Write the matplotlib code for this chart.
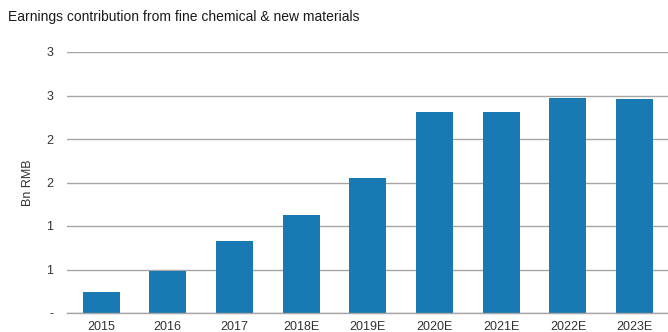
import matplotlib
matplotlib.use("Agg")
import matplotlib.pyplot as plt

plt.rcParams['font.family'] = ['Liberation Sans', 'DejaVu Sans']

years = ["2015", "2016", "2017", "2018E", "2019E", "2020E", "2021E", "2022E", "2023E"]
earnings = [0.245, 0.486, 0.83, 1.126, 1.555, 2.314, 2.314, 2.468, 2.456]
y_ticks = [0, 0.5, 1.0, 1.5, 2.0, 2.5, 3.0]
y_tick_labels = ["-", "1", "1", "2", "2", "3", "3"]

fig = plt.figure(figsize=(6.68, 3.32), dpi=100)
ax = fig.add_axes([67 / 668, 19 / 332, 601 / 668, 261 / 332])

x = range(len(years))
ax.bar(x, earnings, width=0.555, color="#1879b3", zorder=3)

ax.set_xlim(-0.51, len(years) - 0.5)
ax.set_ylim(0, 3.0)
ax.set_yticks(y_ticks)
ax.set_yticklabels(y_tick_labels)
ax.set_xticks(list(x))
ax.set_xticklabels(years)

ax.grid(axis="y", color="#a6a6a6", linewidth=1.0, zorder=0)
for s in ["top", "right", "left"]:
    ax.spines[s].set_visible(False)
ax.spines["bottom"].set_color("#a6a6a6")
ax.spines["bottom"].set_linewidth(1.0)
ax.spines["bottom"].set_zorder(4)

ax.tick_params(axis="both", length=0, labelsize=9, colors="#333333")
ax.tick_params(axis="y", pad=10)
ax.tick_params(axis="x", pad=6)

ax.set_ylabel("Bn RMB", fontsize=9, color="#333333", labelpad=9)

fig.text(8 / 668, 1 - 17 / 332, "Earnings contribution from fine chemical & new materials",
         fontsize=10, color="#1a1a1a", va="center", ha="left")

fig.savefig("out.png", dpi=100, facecolor="white")
